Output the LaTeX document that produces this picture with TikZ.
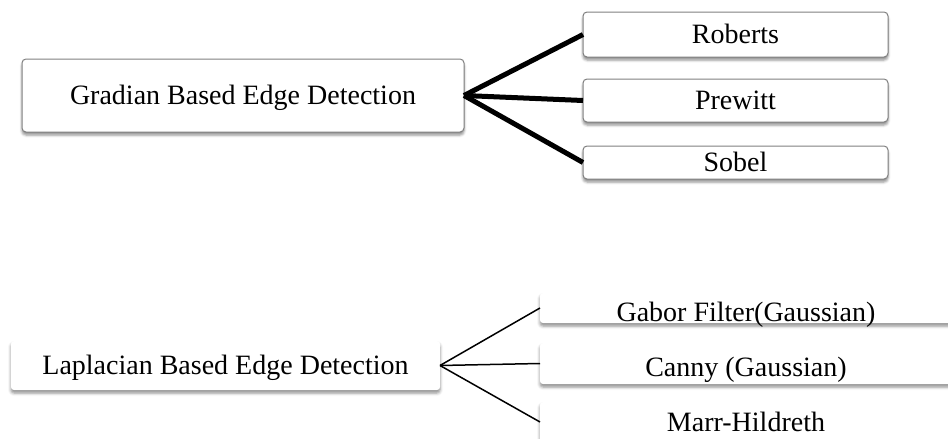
\documentclass[tikz,border=0pt]{standalone}
\usepackage{fontspec}
\setmainfont{Liberation Serif}
\usetikzlibrary{shadows.blur}
\begin{document}
\begin{tikzpicture}[x=1pt,y=-1pt,
  every node/.style={inner sep=0pt,outer sep=0pt,text height=18.5pt,text depth=0pt,
    font=\fontsize{28}{30}\selectfont},
  gbox/.style={draw=black!50,line width=1pt,fill=white,rounded corners=4pt,
    blur shadow={shadow xshift=0pt,shadow yshift=-3pt,shadow blur radius=2.5pt,shadow opacity=45}},
  lbox/.style={fill=white,rounded corners=3pt,
    blur shadow={shadow xshift=0pt,shadow yshift=-3pt,shadow blur radius=3pt,shadow opacity=45}},
  thickline/.style={line width=5pt,black},
  thinline/.style={line width=1.5pt,black}]
\useasboundingbox (0,0) rectangle (948,439);
% Gradian group
\node[gbox,minimum width=442pt,minimum height=73pt] (g) at (243,95.5) {Gradian Based Edge Detection};
\node[gbox,minimum width=305pt,minimum height=45pt] (r) at (735.5,34.5) {Roberts};
\node[gbox,minimum width=305pt,minimum height=43pt] (p) at (735.5,100.5) {Prewitt};
\node[gbox,minimum width=305pt,minimum height=33pt] (s) at (735.5,162.5) {Sobel};
\draw[thickline] (g.east) -- (r.west);
\draw[thickline] (g.east) -- (p.west);
\draw[thickline] (g.east) -- (s.west);
% Laplacian group
\node[lbox,minimum width=429pt,minimum height=49pt] (l) at (225.5,365.5) {Laplacian Based Edge Detection};
\node[lbox,minimum width=412pt,minimum height=30pt,text height=26.5pt] (gf) at (746,308) {Gabor Filter(Gaussian)};
\node[lbox,minimum width=412pt,minimum height=41pt,text height=25.5pt] (c) at (746,363.5) {Canny (Gaussian)};
\node[lbox,minimum width=412pt,minimum height=40pt] (m) at (746,422) {Marr-Hildreth};
\draw[thinline] (l.east) -- (gf.west);
\draw[thinline] (l.east) -- (c.west);
\draw[thinline] (l.east) -- (m.west);
\end{tikzpicture}
\end{document}
